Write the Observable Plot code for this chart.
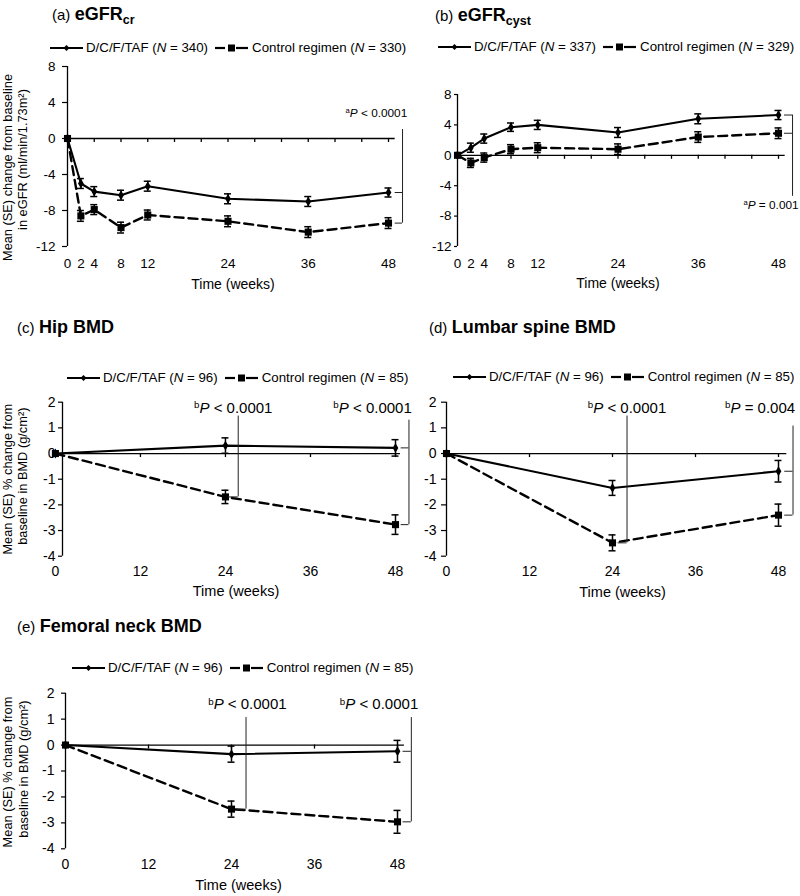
<!DOCTYPE html>
<html><head><meta charset="utf-8">
<script src="https://cdn.jsdelivr.net/npm/d3@7"></script>
<script src="https://cdn.jsdelivr.net/npm/@observablehq/plot@0.6"></script>
<style>
body{margin:0;background:#fff;}
#root{position:relative;width:800px;height:896px;font-family:"Liberation Sans",Arial,Helvetica,sans-serif;color:#000;overflow:hidden;background:#fff}
.title{position:absolute;white-space:nowrap;line-height:22px}
.title .lab{font-size:15px}
.title b{font-size:18px}
.title sub{font-size:12.5px;vertical-align:-4px;line-height:0}
.legend{position:absolute;white-space:nowrap;font-size:13.3px;line-height:16px;height:16px;display:flex;align-items:center}
.legend svg{display:block;flex:none}
</style></head><body><div id="root"></div>
<script>
// ---------- data ----------
const weeksEgfr = [0, 2, 4, 8, 12, 24, 36, 48];
const weeksBmd = [0, 24, 48];
const egfrTicksX = [0, 2, 4, 8, 12, 24, 36, 48];
const egfrTicksY = [-12, -8, -4, 0, 4, 8];
const egfrZeroTicks = [4, 8, 12, 16, 20, 24, 28, 32, 36, 40, 44, 48];
const bmdTicksX = [0, 12, 24, 36, 48];
const bmdTicksY = [-4, -3, -2, -1, 0, 1, 2];
const bmdZeroTicks = [12, 24, 36, 48];

const seriesNames = ["D/C/F/TAF", "Control regimen"];
const nEgfrCr = [340, 330];
const nEgfrCyst = [337, 329];
const nBmd = [96, 85];

// (a) eGFRcr
const crDcf    = [0, -5.0, -5.9, -6.3, -5.3, -6.7, -7.0, -6.0];
const crDcfSe  = [0, 0.55, 0.55, 0.55, 0.55, 0.55, 0.55, 0.5];
const crCtrl   = [0, -8.6, -7.9, -9.9, -8.5, -9.2, -10.4, -9.4];
const crCtrlSe = [0, 0.6, 0.55, 0.6, 0.55, 0.6, 0.6, 0.6];
// (b) eGFRcyst
const cyDcf    = [0, 1.0, 2.2, 3.7, 4.0, 3.0, 4.8, 5.3];
const cyDcfSe  = [0, 0.6, 0.6, 0.55, 0.6, 0.65, 0.65, 0.6];
const cyCtrl   = [0, -1.0, -0.3, 0.8, 1.0, 0.8, 2.4, 2.9];
const cyCtrlSe = [0, 0.6, 0.6, 0.6, 0.65, 0.7, 0.7, 0.7];
// (c) Hip BMD
const hipDcf    = [0, 0.31, 0.22];
const hipDcfSe  = [0, 0.3, 0.32];
const hipCtrl   = [0, -1.69, -2.77];
const hipCtrlSe = [0, 0.26, 0.38];
// (d) Lumbar spine BMD
const lumDcf    = [0, -1.34, -0.69];
const lumDcfSe  = [0, 0.29, 0.42];
const lumCtrl   = [0, -3.48, -2.40];
const lumCtrlSe = [0, 0.31, 0.43];
// (e) Femoral neck BMD
const femDcf    = [0, -0.35, -0.24];
const femDcfSe  = [0, 0.31, 0.42];
const femCtrl   = [0, -2.47, -2.96];
const femCtrlSe = [0, 0.31, 0.44];

const pA = "aP < 0.0001";
const pB = "aP = 0.001";
const pC = ["bP < 0.0001", "bP < 0.0001"];
const pD = ["bP < 0.0001", "bP = 0.004"];
const pE = ["bP < 0.0001", "bP < 0.0001"];

const yLabEgfr = ["Mean (SE) change from baseline", "in eGFR (ml/min/1.73m\u00B2)"];
const yLabBmd = ["Mean (SE) % change from", "baseline in BMD (g/cm\u00B2)"];
const xLab = "Time (weeks)";

const last = a => a[a.length - 1];
const FONT = '"Liberation Sans", Arial, Helvetica, sans-serif';
const root = document.getElementById("root");

// ---------- titles & legends ----------
function addTitle(left, top, lab, bold, sub) {
  const d = document.createElement("div");
  d.className = "title";
  d.style.left = left + "px"; d.style.top = top + "px";
  d.innerHTML = `<span class="lab">${lab}</span> <b>${bold}${sub ? `<sub>${sub}</sub>` : ""}</b>`;
  root.appendChild(d);
}
function addLegend(left, top, ns) {
  const d = document.createElement("div");
  d.className = "legend";
  d.style.left = left + "px"; d.style.top = top + "px";
  const solid = `<svg width="33" height="10"><line x1="0" y1="5" x2="33" y2="5" stroke="#000" stroke-width="2"/><path d="M16.5,2 L19.5,5 L16.5,8 L13.5,5Z" fill="#000"/></svg>`;
  const dash = `<svg width="33" height="10"><line x1="0" y1="5" x2="10" y2="5" stroke="#000" stroke-width="2.2"/><rect x="13" y="1.5" width="7" height="7" fill="#000"/><line x1="21" y1="5" x2="33" y2="5" stroke="#000" stroke-width="2.2"/></svg>`;
  d.innerHTML = `${solid}<span style="margin-left:3px">${seriesNames[0]} (<i>N</i> = ${ns[0]})</span>` +
    `<span style="margin-left:7px"></span>${dash}<span style="margin-left:4px">${seriesNames[1]} (<i>N</i> = ${ns[1]})</span>`;
  root.appendChild(d);
}

// ---------- panels ----------
function makePanel(c) {
  const L = c.layout;
  const rowsD = c.weeks.map((w, i) => ({week: w, value: c.dcf[i], se: c.dcfSe[i]}));
  const rowsC = c.weeks.map((w, i) => ({week: w, value: c.ctrl[i], se: c.ctrlSe[i]}));
  const fw = L.width - L.mL - L.mR, fh = L.height - L.mT - L.mB;
  const pxW = fw / (c.xDomain[1] - c.xDomain[0]);
  const pxU = fh / (c.yDomain[1] - c.yDomain[0]);
  const cap = 3.5 / pxW, tk = 4 / pxU;
  const errs = rows => rows.filter(d => d.se > 0);
  const errMarks = rows => [
    Plot.ruleX(errs(rows), {x: "week", y1: d => d.value - d.se, y2: d => d.value + d.se, stroke: "#000", strokeWidth: 1.5}),
    Plot.ruleY(errs(rows), {y: d => d.value + d.se, x1: d => d.week - cap, x2: d => d.week + cap, stroke: "#000", strokeWidth: 1.5}),
    Plot.ruleY(errs(rows), {y: d => d.value - d.se, x1: d => d.week - cap, x2: d => d.week + cap, stroke: "#000", strokeWidth: 1.5})
  ];
  const bracketMarks = c.brackets.flatMap(b => [
    Plot.ruleX([b], {x: "x", y1: "y1", y2: "y2", stroke: "#222", strokeWidth: 1}),
    Plot.ruleY(b.stubs, {y: d => d, x1: () => b.stubX1, x2: () => b.x, stroke: "#222", strokeWidth: 1}),
    Plot.text([b], {x: "tx", y: "ty", text: "text", textAnchor: b.anchor, fontSize: b.fs, fill: "#000"})
  ]);
  const marks = [
    Plot.axisX(c.xTicks, {anchor: "bottom", tickSize: 0, tickPadding: c.xPad, tickFormat: d => String(d), fontSize: c.fontSize, label: null}),
    Plot.axisY(c.yTicks, {anchor: "left", tickSize: c.yTickSize, tickPadding: c.yTickPad, tickFormat: d => String(d), fontSize: c.fontSize, label: null, strokeWidth: 1.2}),
    Plot.ruleX([c.xDomain[0]], {y1: c.yDomain[0], y2: c.yDomain[1], stroke: "#000", strokeWidth: 1.3}),
    Plot.ruleY([0], {x1: c.xDomain[0], x2: c.zeroEnd, stroke: "#000", strokeWidth: 1.3}),
    Plot.ruleX(c.zeroTicks, {x: d => d, y1: 0, y2: -tk, stroke: "#000", strokeWidth: 1.3}),
    ...errMarks(rowsC),
    ...errMarks(rowsD),
    Plot.line(rowsC, {x: "week", y: "value", stroke: "#000", strokeWidth: 2.4, strokeDasharray: "9,5"}),
    Plot.line(rowsD, {x: "week", y: "value", stroke: "#000", strokeWidth: 2.1}),
    Plot.dot(rowsC, {x: "week", y: "value", symbol: "square", r: 4, fill: "#000"}),
    Plot.dot(rowsD, {x: "week", y: "value", symbol: "diamond", r: 3, fill: "#000"}),
    ...bracketMarks,
    Plot.text([xLab], {frameAnchor: "bottom", text: d => d, dx: c.xLabelDx, dy: c.xLabelDy, fontSize: c.fontSize + 0.5, fill: "#000"})
  ];
  if (c.yLabel) {
    c.yLabel.forEach((lab, i) => {
      marks.push(Plot.text([lab], {frameAnchor: "left", text: d => d, rotate: -90, textAnchor: "middle", lineAnchor: "middle",
        dx: c.yLabelDx[i], dy: c.yLabelDy[i], fontSize: 12.8, fill: "#000"}));
    });
  }
  const svg = Plot.plot({
    width: L.width, height: L.height,
    marginLeft: L.mL, marginRight: L.mR, marginTop: L.mT, marginBottom: L.mB,
    style: `font-family: ${FONT}; font-size: ${c.fontSize}px; color: #000; background: transparent; overflow: visible;`,
    x: {domain: c.xDomain},
    y: {domain: c.yDomain},
    marks
  });
  svg.style.position = "absolute";
  svg.style.left = L.left + "px";
  svg.style.top = L.top + "px";
  svg.style.maxWidth = "none";
  svg.style.fontSize = c.fontSize + "px";
  svg.style.fontFamily = FONT;
  svg.querySelectorAll('g[aria-label$="tick label"]').forEach(g => {
    g.setAttribute("font-size", c.fontSize);
    g.style.fontSize = c.fontSize + "px";
  });
  // superscript letter + italic P in p-value annotations
  svg.querySelectorAll("text").forEach(t => {
    const m = t.textContent.match(/^([ab])P(.*)$/);
    if (!m) return;
    const ns = "http://www.w3.org/2000/svg";
    while (t.firstChild) t.removeChild(t.firstChild);
    const s1 = document.createElementNS(ns, "tspan");
    s1.setAttribute("font-size", "65%"); s1.setAttribute("dy", "-0.5em"); s1.textContent = m[1];
    const s2 = document.createElementNS(ns, "tspan");
    s2.setAttribute("dy", "0.325em"); s2.setAttribute("font-style", "italic"); s2.textContent = "P";
    const s3 = document.createElementNS(ns, "tspan");
    s3.textContent = m[2];
    t.appendChild(s1); t.appendChild(s2); t.appendChild(s3);
  });
  root.appendChild(svg);
}

const panels = [
  {layout: {left: 0, top: 56, width: 412, height: 244, mL: 67, mR: 24, mT: 10, mB: 54},
   weeks: weeksEgfr, dcf: crDcf, dcfSe: crDcfSe, ctrl: crCtrl, ctrlSe: crCtrlSe,
   xDomain: [0, 48], yDomain: [-12, 8], xTicks: egfrTicksX, yTicks: egfrTicksY, zeroTicks: egfrZeroTicks, zeroEnd: 49,
   fontSize: 13.5, xPad: 12, yTickSize: 5, yTickPad: 7,
   yLabel: yLabEgfr, yLabelDx: [-60, -45], yLabelDy: [11, 3], xLabelDx: 5, xLabelDy: 42,
   brackets: [{x: 50.1, y1: 1.0, y2: last(crCtrl), stubs: [last(crDcf), last(crCtrl)], stubX1: 49.0, text: pA, tx: 50.8, ty: 2.8, anchor: "end", fs: 11.8}]},
  {layout: {left: 400, top: 56, width: 400, height: 244, mL: 57, mR: 22, mT: 38, mB: 54},
   weeks: weeksEgfr, dcf: cyDcf, dcfSe: cyDcfSe, ctrl: cyCtrl, ctrlSe: cyCtrlSe,
   xDomain: [0, 48], yDomain: [-12, 8], xTicks: egfrTicksX, yTicks: egfrTicksY, zeroTicks: egfrZeroTicks, zeroEnd: 49,
   fontSize: 13.5, xPad: 12, yTickSize: 3, yTickPad: 3,
   yLabel: null, xLabelDx: 0, xLabelDy: 41,
   brackets: [{x: 50.1, y1: last(cyDcf), y2: -5.4, stubs: [last(cyDcf), last(cyCtrl)], stubX1: 48.9, text: pB, tx: 51.0, ty: -6.6, anchor: "end", fs: 11.8}]},
  {layout: {left: 0, top: 388, width: 415, height: 212, mL: 62, mR: 20, mT: 13.7, mB: 44.3},
   weeks: weeksBmd, dcf: hipDcf, dcfSe: hipDcfSe, ctrl: hipCtrl, ctrlSe: hipCtrlSe,
   xDomain: [1, 48], yDomain: [-4, 2], xTicks: bmdTicksX, yTicks: bmdTicksY, zeroTicks: bmdZeroTicks, zeroEnd: 48.7,
   fontSize: 14, xPad: 10, yTickSize: 4, yTickPad: 3,
   yLabel: yLabBmd, yLabelDx: [-55, -40], yLabelDy: [0, -3], xLabelDx: 7, xLabelDy: 40,
   brackets: [
     {x: 25.8, y1: 1.46, y2: hipCtrl[1], stubs: [hipCtrl[1]], stubX1: 24.4, text: pC[0], tx: 25.1, ty: 1.77, anchor: "middle", fs: 15},
     {x: 49.9, y1: 1.3, y2: last(hipCtrl), stubs: [last(hipDcf), last(hipCtrl)], stubX1: 48.8, text: pC[1], tx: 50.3, ty: 1.77, anchor: "end", fs: 15}]},
  {layout: {left: 400, top: 388, width: 400, height: 212, mL: 46, mR: 22, mT: 13.7, mB: 44.3},
   weeks: weeksBmd, dcf: lumDcf, dcfSe: lumDcfSe, ctrl: lumCtrl, ctrlSe: lumCtrlSe,
   xDomain: [0, 48], yDomain: [-4, 2], xTicks: bmdTicksX, yTicks: bmdTicksY, zeroTicks: bmdZeroTicks, zeroEnd: 49.2,
   fontSize: 14, xPad: 10, yTickSize: 5, yTickPad: 5,
   yLabel: null, xLabelDx: 10, xLabelDy: 41,
   brackets: [
     {x: 26.1, y1: 1.46, y2: lumCtrl[1], stubs: [lumCtrl[1]], stubX1: 24.8, text: pD[0], tx: 26.1, ty: 1.77, anchor: "middle", fs: 15},
     {x: 50.1, y1: 1.07, y2: last(lumCtrl), stubs: [last(lumDcf), last(lumCtrl)], stubX1: 48.9, text: pD[1], tx: 50.4, ty: 1.77, anchor: "end", fs: 15}]},
  {layout: {left: 0, top: 680, width: 420, height: 216, mL: 65, mR: 23, mT: 12.7, mB: 47.7},
   weeks: weeksBmd, dcf: femDcf, dcfSe: femDcfSe, ctrl: femCtrl, ctrlSe: femCtrlSe,
   xDomain: [0, 48], yDomain: [-4, 2], xTicks: bmdTicksX, yTicks: bmdTicksY, zeroTicks: bmdZeroTicks, zeroEnd: 49,
   fontSize: 14, xPad: 10, yTickSize: 4, yTickPad: 7,
   yLabel: yLabBmd, yLabelDx: [-58, -42], yLabelDy: [1, -2], xLabelDx: 7, xLabelDy: 41,
   brackets: [
     {x: 26.1, y1: 1.06, y2: femCtrl[1], stubs: [femCtrl[1]], stubX1: 24.8, text: pE[0], tx: 26.3, ty: 1.56, anchor: "middle", fs: 15},
     {x: 50.0, y1: 1.06, y2: last(femCtrl), stubs: [last(femDcf), last(femCtrl)], stubX1: 48.8, text: pE[1], tx: 51.0, ty: 1.56, anchor: "end", fs: 15}]}
];

addTitle(52, 3, "(a)", "eGFR", "cr");
addTitle(435, 4, "(b)", "eGFR", "cyst");
addTitle(17, 316, "(c)", "Hip BMD");
addTitle(429, 316, "(d)", "Lumbar spine BMD");
addTitle(17, 615, "(e)", "Femoral neck BMD");
addLegend(50, 40, nEgfrCr);
addLegend(438, 39, nEgfrCyst);
addLegend(67, 370, nBmd);
addLegend(453, 369, nBmd);
addLegend(72, 660, nBmd);

panels.forEach(makePanel);
</script></body></html>
